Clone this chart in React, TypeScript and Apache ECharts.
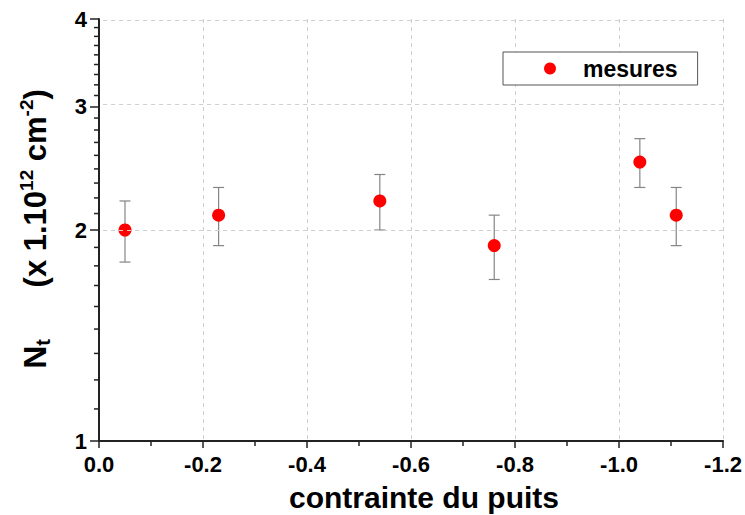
import React, { useEffect, useRef } from "react";
import * as echarts from "echarts";

// ---- data ----
const xValues = [-0.05, -0.23, -0.54, -0.76, -1.04, -1.11];
const yValues = [2.0, 2.1, 2.2, 1.9, 2.5, 2.1];
const yErrors = [0.2, 0.2, 0.2, 0.2, 0.2, 0.2];
const seriesName = "mesures";

// axis definitions
const xMin = -1.2;
const xMax = 0;
const xInterval = 0.2;
const yMajorTicks = [1, 2, 3, 4];
const yGridLines = [2, 3, 4];
const yMinorPerDecade = 9; // minor ticks at n + k/9

const xTitle = "contrainte du puits";

const FONT = "'Liberation Sans', Arial, Helvetica, sans-serif";
const lg = (v: number) => Math.log10(v);

const yMinorTicks: number[] = [];
for (let n = yMajorTicks[0]; n < yMajorTicks[yMajorTicks.length - 1]; n++) {
  for (let k = 1; k < yMinorPerDecade; k++) yMinorTicks.push(n + k / yMinorPerDecade);
}

const AXIS_COLOR = "#222";
const GRID_COLOR = "#cfcfcf";

export default function App() {
  const ref = useRef<HTMLDivElement>(null);

  useEffect(() => {
    if (!ref.current) return;
    const chart = echarts.init(ref.current, undefined, { renderer: "svg" });

    const yMin = lg(yMajorTicks[0]);
    const yMax = lg(yMajorTicks[yMajorTicks.length - 1]);

    const option: any = {
      animation: false,
      backgroundColor: "#ffffff",
      textStyle: { fontFamily: FONT },
      grid: { left: 99, top: 19, right: 21, bottom: 74, containLabel: false },
      legend: {
        data: [{ name: seriesName, icon: "circle" }],
        left: 503,
        top: 52,
        orient: "horizontal",
        padding: [4, 20, 4, 41],
        itemWidth: 12,
        itemHeight: 12,
        borderColor: "#555",
        borderWidth: 1,
        borderRadius: 0,
        backgroundColor: "#ffffff",
        selectedMode: false,
        textStyle: {
          fontFamily: FONT,
          fontSize: 23,
          fontWeight: "bold",
          color: "#000",
          lineHeight: 25,
          padding: [0, 0, 0, 22],
        },
      },
      xAxis: {
        type: "value",
        inverse: true,
        min: xMin,
        max: xMax,
        interval: xInterval,
        axisLine: { show: true, onZero: false, lineStyle: { color: AXIS_COLOR, width: 2 } },
        axisTick: { show: true, inside: false, length: 7, lineStyle: { color: AXIS_COLOR, width: 1.5 } },
        minorTick: { show: true, splitNumber: 2, length: 5, lineStyle: { color: AXIS_COLOR, width: 1.5 } },
        axisLabel: {
          margin: 12,
          fontFamily: FONT,
          fontSize: 22,
          fontWeight: "bold",
          color: "#000",
          formatter: (v: number) => (Math.abs(v) < 1e-9 ? "0.0" : v.toFixed(1)),
        },
        splitLine: { show: true, lineStyle: { color: GRID_COLOR, type: [4, 4], width: 1 } },
      },
      yAxis: {
        type: "value",
        min: yMin,
        max: yMax,
        position: "left",
        axisLine: { show: true, onZero: false, lineStyle: { color: AXIS_COLOR, width: 2 } },
        axisTick: {
          show: true,
          inside: false,
          length: 9,
          customValues: yMajorTicks.map(lg),
          lineStyle: { color: AXIS_COLOR, width: 1.5 },
        },
        axisLabel: {
          customValues: yMajorTicks.map(lg),
          margin: 12,
          fontFamily: FONT,
          fontSize: 22,
          fontWeight: "bold",
          color: "#000",
          formatter: (v: number) => String(Math.round(Math.pow(10, v))),
        },
        splitLine: { show: false },
      },
      graphic: [
        {
          type: "text",
          x: 35,
          y: 229,
          rotation: Math.PI / 2,
          silent: true,
          style: {
            text: "{n|N}{s|t}{m|      (x 1.10}{p|12}{m| cm}{p|-2}{m|)}",
            align: "center",
            verticalAlign: "middle",
            fontFamily: FONT,
            fontWeight: "bold",
            fill: "#000",
            rich: {
              n: { fontFamily: FONT, fontSize: 32, fontWeight: "bold", fill: "#000", lineHeight: 36, verticalAlign: "middle" },
              s: { fontFamily: FONT, fontSize: 20, fontWeight: "bold", fill: "#000", lineHeight: 24, verticalAlign: "bottom" },
              m: { fontFamily: FONT, fontSize: 31, fontWeight: "bold", fill: "#000", lineHeight: 36, verticalAlign: "middle" },
              p: { fontFamily: FONT, fontSize: 19, fontWeight: "bold", fill: "#000", lineHeight: 19, verticalAlign: "top" },
            },
          },
        },
        {
          type: "text",
          x: 424,
          y: 497,
          silent: true,
          style: {
            text: xTitle,
            align: "center",
            verticalAlign: "middle",
            fontFamily: FONT,
            fontSize: 30,
            fontWeight: "bold",
            fill: "#000",
          },
        },
      ],
      series: [
        {
          type: "line",
          data: [],
          silent: true,
          z: 1,
          markLine: {
            silent: true,
            symbol: "none",
            label: { show: false },
            lineStyle: { color: GRID_COLOR, type: [4, 4], width: 1 },
            data: yGridLines.map((v) => ({ yAxis: lg(v) })),
          },
        },
        {
          // minor ticks of the logarithmic y axis, placed through the axis scale
          type: "custom",
          z: 4,
          silent: true,
          clip: false,
          data: yMinorTicks.map((v) => [xMax, lg(v)]),
          encode: { x: 0, y: 1 },
          renderItem: (params: any, api: any) => {
            const p = api.coord([api.value(0), api.value(1)]);
            return {
              type: "line",
              shape: { x1: p[0] - 5, y1: p[1], x2: p[0], y2: p[1] },
              style: { stroke: AXIS_COLOR, lineWidth: 1.5 },
            };
          },
        },
        {
          type: "custom",
          z: 2,
          silent: true,
          data: xValues.map((x, i) => [x, lg(yValues[i] - yErrors[i]), lg(yValues[i] + yErrors[i])]),
          encode: { x: 0, y: [1, 2] },
          renderItem: (params: any, api: any) => {
            const x = api.value(0);
            const lo = api.coord([x, api.value(1)]);
            const hi = api.coord([x, api.value(2)]);
            const hw = 5.5;
            const st = { stroke: "#858585", lineWidth: 1.2 };
            return {
              type: "group",
              children: [
                { type: "line", shape: { x1: lo[0], y1: lo[1], x2: hi[0], y2: hi[1] }, style: st },
                { type: "line", shape: { x1: hi[0] - hw, y1: hi[1], x2: hi[0] + hw, y2: hi[1] }, style: st },
                { type: "line", shape: { x1: lo[0] - hw, y1: lo[1], x2: lo[0] + hw, y2: lo[1] }, style: st },
              ],
            };
          },
        },
        {
          type: "scatter",
          name: seriesName,
          z: 3,
          symbol: "circle",
          symbolSize: 13,
          itemStyle: { color: "#ff0000", opacity: 1 },
          data: xValues.map((x, i) => [x, lg(yValues[i])]),
        },
      ],
    };

    chart.setOption(option);
    return () => {
      chart.dispose();
    };
  }, []);

  return (
    <div
      ref={ref}
      style={{ position: "fixed", left: 0, top: 0, width: 745, height: 515, background: "#fff" }}
    />
  );
}
